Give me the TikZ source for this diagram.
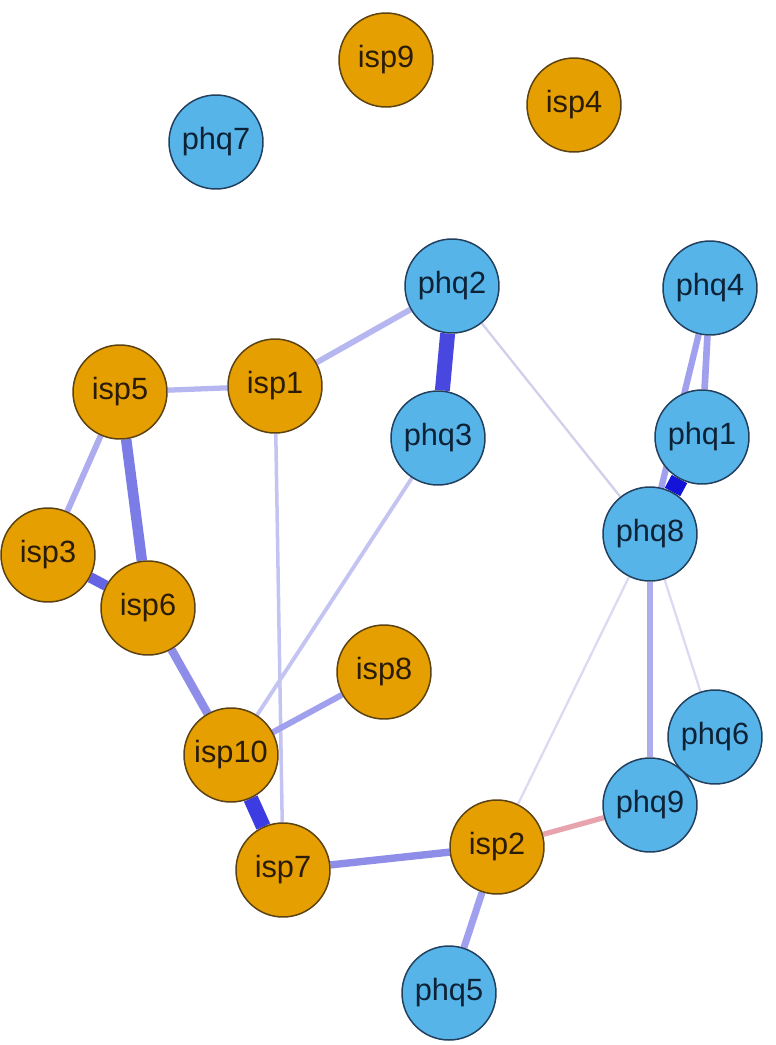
\documentclass[tikz,border=0pt]{standalone}
\usepackage{fontspec}
\setmainfont{Liberation Sans}
\usetikzlibrary{backgrounds}
\definecolor{ornode}{HTML}{E69F00}
\definecolor{blnode}{HTML}{56B4E9}
\definecolor{orbord}{HTML}{5A4212}
\definecolor{blbord}{HTML}{22405E}
\definecolor{ortext}{HTML}{2A1C08}
\definecolor{bltext}{HTML}{0E2236}
\definecolor{eA}{HTML}{1414D8}
\definecolor{eB}{HTML}{3C3CE2}
\definecolor{eC}{HTML}{4848E0}
\definecolor{eD}{HTML}{6464E4}
\definecolor{eE}{HTML}{7C7CE6}
\definecolor{eF}{HTML}{8E8EE8}
\definecolor{eG}{HTML}{A0A0EE}
\definecolor{eH}{HTML}{ACACEE}
\definecolor{eI}{HTML}{B6B6F0}
\definecolor{eJ}{HTML}{C4C4F2}
\definecolor{eK}{HTML}{D0D0EA}
\definecolor{eL}{HTML}{DADAF2}
\definecolor{eR}{HTML}{E8A4AE}
\tikzset{
  edge/.style 2 args={line width=#1, draw=#2, line cap=butt},
  ispnode/.style={circle, fill=ornode, draw=orbord, line width=0.85pt,
    minimum size=1.88cm, inner sep=0pt, text=ortext,
    font=\fontsize{17.5}{19}\selectfont},
  phqnode/.style={circle, fill=blnode, draw=blbord, line width=0.85pt,
    minimum size=1.88cm, inner sep=0pt, text=bltext,
    font=\fontsize{17.5}{19}\selectfont}
}
\begin{document}
\begin{tikzpicture}[x=0.02cm, y=-0.02cm]
\useasboundingbox (0,0) rectangle (775,1045);
% nodes
\node[ispnode] (isp9)  at (386,60)  {isp9};
\node[ispnode] (isp4)  at (574,105) {isp4};
\node[phqnode] (phq7)  at (216,142) {phq7};
\node[phqnode] (phq2)  at (452,286) {phq2};
\node[phqnode] (phq4)  at (710,288) {phq4};
\node[ispnode] (isp5)  at (120,392) {isp5};
\node[ispnode] (isp1)  at (275,386) {isp1};
\node[phqnode] (phq3)  at (438,438) {phq3};
\node[phqnode] (phq1)  at (702,437) {phq1};
\node[phqnode] (phq8)  at (650,534) {phq8};
\node[ispnode] (isp3)  at (48,555)  {isp3};
\node[ispnode] (isp6)  at (148,608) {isp6};
\node[ispnode] (isp8)  at (384,672) {isp8};
\node[phqnode] (phq6)  at (715,737) {phq6};
\node[ispnode] (isp10) at (231,755) {isp10};
\node[phqnode] (phq9)  at (650,805) {phq9};
\node[ispnode] (isp7)  at (283,870) {isp7};
\node[ispnode] (isp2)  at (497,847) {isp2};
\node[phqnode] (phq5)  at (449,993) {phq5};
% edges
\begin{pgfonlayer}{background}
\draw[edge={1.3pt}{eK}] (phq2) -- (phq8);
\draw[edge={1.3pt}{eL}] (phq8) -- (isp2);
\draw[edge={1.3pt}{eL}] (phq8) -- (phq6);
\draw[edge={2.0pt}{eJ}] (isp1) -- (isp7);
\draw[edge={2.2pt}{eJ}] (phq3) -- (isp10);
\draw[edge={3.0pt}{eI}] (isp5) -- (isp1);
\draw[edge={3.3pt}{eI}] (phq2) -- (isp1);
\draw[edge={3.4pt}{eH}] (isp5) -- (isp3);
\draw[edge={3.4pt}{eG}] (isp8) -- (isp10);
\draw[edge={3.8pt}{eH}] (phq8) -- (phq9);
\draw[edge={3.6pt}{eG}] (phq4) -- (phq8);
\draw[edge={3.8pt}{eG}] (phq4) -- (phq1);
\draw[edge={4.0pt}{eG}] (isp2) -- (phq5);
\draw[edge={4.2pt}{eF}] (isp7) -- (isp2);
\draw[edge={3.0pt}{eR}] (isp2) -- (phq9);
\draw[edge={4.8pt}{eF}] (isp6) -- (isp10);
\draw[edge={6.0pt}{eE}] (isp5) -- (isp6);
\draw[edge={6.0pt}{eD}] (isp3) -- (isp6);
\draw[edge={8.5pt}{eC}] (phq2) -- (phq3);
\draw[edge={8.5pt}{eB}] (isp10) -- (isp7);
\draw[edge={10pt}{eA}] (phq1) -- (phq8);
\end{pgfonlayer}
\end{tikzpicture}
\end{document}
